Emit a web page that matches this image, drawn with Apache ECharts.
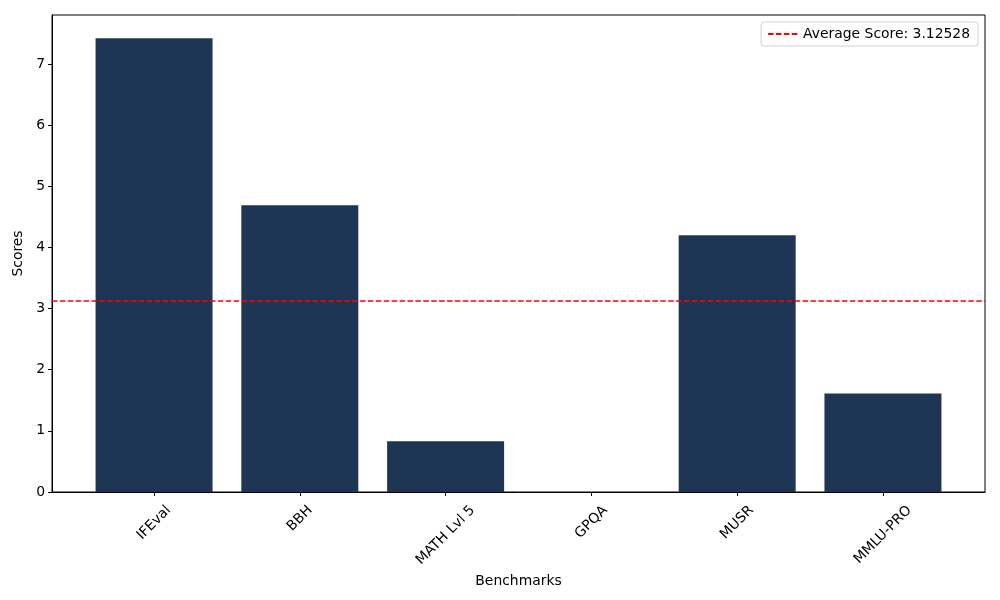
<!DOCTYPE html>
<html>
<head>
<meta charset="utf-8">
<script src="https://cdn.jsdelivr.net/npm/echarts@6/dist/echarts.min.js"></script>
<style>
  html, body { margin: 0; padding: 0; background: #fff; }
  #main { width: 1000px; height: 600px; }
</style>
</head>
<body>
<div id="main"></div>
<script>
// data
var benchmarks = ['IFEval', 'BBH', 'MATH Lvl 5', 'GPQA', 'MUSR', 'MMLU-PRO'];
var scores = [7.42, 4.69, 0.83, 0, 4.20, 1.61];
var avgScore = 3.12528;
var yTicks = [0, 1, 2, 3, 4, 5, 6, 7];

var barData = [];
for (var i = 0; i < scores.length; i++) {
    barData.push([i, scores[i]]);
}
var xTickPos = [];
for (var i = 0; i < benchmarks.length; i++) {
    xTickPos.push(i);
}

var font = 'DejaVu Sans';
var fs = 13.9;

// rotated labels are centred under the tick (matplotlib style), so each
// label gets padding that depends on its own text width
var ctx = document.createElement('canvas').getContext('2d');
ctx.font = fs + 'px "' + font + '"';
var labelRich = {};
for (var i = 0; i < benchmarks.length; i++) {
    var w = ctx.measureText(benchmarks[i]).width;
    var p = 0.5 * (w + 9);
    labelRich['t' + i] = {
        fontFamily: font, fontSize: fs, color: '#000',
        padding: [p, p, 0, 0]
    };
}

var chart = echarts.init(document.getElementById('main'));

var option = {
    animation: false,
    textStyle: { fontFamily: font },
    grid: {
        left: 52, right: 15, top: 15, bottom: 108,
        show: true, borderColor: '#000', borderWidth: 1
    },
    legend: {
        right: 22, top: 22,
        data: ['Average Score: ' + avgScore],
        itemWidth: 30, itemHeight: 14,
        padding: [5, 8, 5, 6],
        borderColor: '#d0d0d0', borderWidth: 1, borderRadius: 3,
        itemStyle: { color: 'rgba(0,0,0,0)', borderWidth: 0, opacity: 0 },
        textStyle: { fontFamily: font, fontSize: fs, color: '#000' }
    },
    xAxis: {
        type: 'value',
        min: -0.7,
        max: 5.7,
        name: 'Benchmarks',
        nameLocation: 'middle',
        nameGap: 77,
        nameTextStyle: { fontFamily: font, fontSize: fs, color: '#000' },
        splitLine: { show: false },
        axisLine: { show: true, onZero: false, lineStyle: { color: '#000' } },
        axisTick: { show: true, customValues: xTickPos, length: 4, lineStyle: { color: '#000' } },
        axisLabel: {
            customValues: xTickPos,
            rotate: 45,
            align: 'center',
            verticalAlign: 'middle',
            margin: 13,
            fontFamily: font, fontSize: fs, color: '#000',
            rich: labelRich,
            formatter: function (v) {
                var i = Math.round(v);
                return '{t' + i + '|' + benchmarks[i] + '}';
            }
        }
    },
    yAxis: {
        type: 'value',
        min: 0,
        max: 7.8,
        interval: 1,
        name: 'Scores',
        nameLocation: 'middle',
        nameGap: 23,
        nameTextStyle: { fontFamily: font, fontSize: fs, color: '#000' },
        splitLine: { show: false },
        axisLine: { show: true, onZero: false, lineStyle: { color: '#000' } },
        axisTick: { show: true, customValues: yTicks, length: 4, lineStyle: { color: '#000' } },
        axisLabel: {
            customValues: yTicks,
            margin: 7,
            fontFamily: font, fontSize: fs, color: '#000'
        }
    },
    series: [
        {
            name: 'Scores',
            type: 'bar',
            data: barData,
            barWidth: 117,
            itemStyle: { color: '#1f3554' }
        },
        {
            name: 'Average Score: ' + avgScore,
            type: 'line',
            data: [],
            symbol: 'none',
            lineStyle: { color: '#ff0000', width: 1.5, type: [5.5, 2.4] },
            itemStyle: { color: '#ff0000' },
            markLine: {
                silent: true,
                symbol: 'none',
                label: { show: false },
                lineStyle: { color: '#ff0000', width: 1.5, type: [5.5, 2.4] },
                data: [{ yAxis: avgScore }]
            }
        }
    ]
};
chart.setOption(option);
</script>
</body>
</html>
